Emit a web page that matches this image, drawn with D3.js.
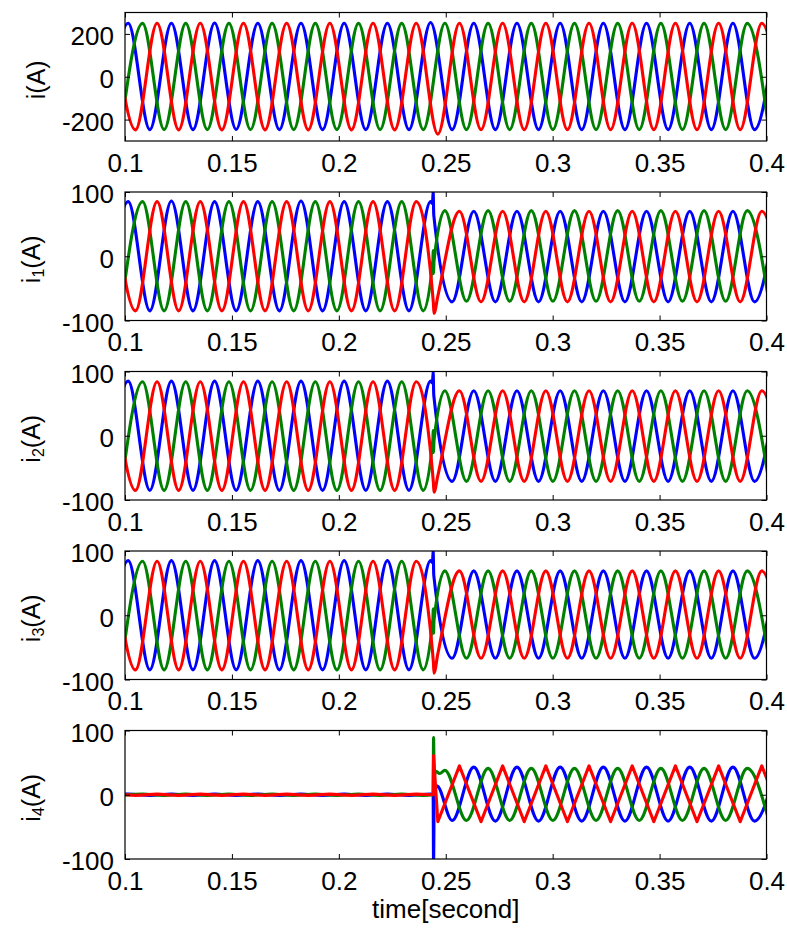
<!DOCTYPE html>
<html>
<head>
<meta charset="utf-8">
<script src="https://cdn.jsdelivr.net/npm/d3@7"></script>
<style>
  body { margin: 0; background: #fff; }
  text { font-family: "Liberation Sans", Arial, sans-serif; fill: #000; }
</style>
</head>
<body>
<svg id="chart" width="787" height="929"></svg>
<script>
// ---- data ----
const xTicks = [0.1, 0.15, 0.2, 0.25, 0.3, 0.35, 0.4];
const xTitle = "time[second]";
const yNames = [["i", ""], ["i", "1"], ["i", "2"], ["i", "3"], ["i", "4"]];
const yLimits = [[-300, 300], [-100, 100], [-100, 100], [-100, 100], [-100, 100]];
const yTickSets = [[-200, 0, 200], [-100, 0, 100], [-100, 0, 100], [-100, 0, 100], [-100, 0, 100]];

// times of the peaks/troughs of each phase (blue starts on a trough, green on a trough, red on a peak)
const tBlue = [0.0914, 0.1015, 0.1116, 0.1217, 0.1318, 0.1419, 0.1520, 0.1621, 0.1722, 0.1823, 0.1924,
  0.2025, 0.2126, 0.2227, 0.2328, 0.2429, 0.2530, 0.2631, 0.2732, 0.2833, 0.2934, 0.3035, 0.3136,
  0.3237, 0.3338, 0.3439, 0.3540, 0.3641, 0.3742, 0.3843, 0.3944, 0.4045];
const tGreen = [0.0981, 0.1082, 0.1183, 0.1284, 0.1385, 0.1486, 0.1587, 0.1688, 0.1789, 0.1890, 0.1991,
  0.2092, 0.2193, 0.2294, 0.2395, 0.2496, 0.2597, 0.2698, 0.2799, 0.2900, 0.3001, 0.3102, 0.3203,
  0.3304, 0.3405, 0.3506, 0.3607, 0.3708, 0.3809, 0.3910, 0.4011];
const tRed = [0.0948, 0.1049, 0.1150, 0.1251, 0.1352, 0.1453, 0.1554, 0.1655, 0.1756, 0.1857, 0.1958,
  0.2059, 0.2160, 0.2261, 0.2362, 0.2463, 0.2564, 0.2665, 0.2766, 0.2867, 0.2968, 0.3069, 0.3170,
  0.3271, 0.3372, 0.3473, 0.3574, 0.3675, 0.3776, 0.3877, 0.3978, 0.4079];

// peak values, panel i
const blueI = [-248, 250, -247, 250, -247, 251, -246, 250, -247, 250, -247, 250, -247, 250, -247, 253,
  -247, 250, -247, 250, -247, 250, -247, 250, -247, 250, -247, 250, -247, 250, -247, 250];
const greenI = [-247, 249, -247, 249, -247, 249, -247, 249, -247, 249, -247, 249, -247, 249, -247, 250,
  -247, 249, -247, 249, -247, 249, -247, 249, -247, 249, -247, 249, -247, 249, -247];
const redI = [250, -248, 250, -248, 250, -248, 250, -248, 250, -248, 250, -248, 250, -248, 250, -268,
  250, -247, 250, -247, 250, -247, 250, -247, 250, -247, 250, -247, 250, -247, 250, -247];

// panel i1
const blue1 = [-85, 85, -85, 86, -85, 85, -85, 85, -85, 86, -85, 85, -85, 85, -85, 85,
  -71, 70, -71, 70, -71, 70, -71, 70, -71, 70, -71, 70, -71, 70, -71, 70];
const green1 = [-85, 85, -85, 85, -85, 85, -85, 85, -85, 85, -85, 85, -85, 85, -85,
  71, -70, 71, -70, 71, -70, 71, -70, 71, -70, 71, -70, 71, -70, 71, -70];
const red1 = [85, -85, 85, -85, 85, -85, 85, -85, 85, -85, 85, -85, 85, -85, 85, -62,
  70, -71, 70, -71, 70, -71, 70, -71, 70, -71, 70, -71, 70, -71, 70, -71];

// panel i2
const blue2 = [-85, 85, -85, 85, -85, 85, -85, 85, -85, 85, -85, 85, -85, 85, -85, 85,
  -71, 70, -71, 70, -71, 70, -71, 70, -71, 70, -71, 70, -71, 70, -71, 70];
const green2 = [-85, 84, -85, 84, -85, 84, -85, 84, -85, 84, -85, 84, -85, 84, -85,
  70, -71, 70, -71, 70, -71, 70, -71, 70, -71, 70, -71, 70, -71, 70, -71];
const red2 = [84, -85, 84, -85, 84, -85, 84, -85, 84, -85, 84, -85, 84, -85, 84, -62,
  70, -71, 70, -71, 70, -71, 70, -71, 70, -71, 70, -71, 70, -71, 70, -71];

// panel i3
const blue3 = [-85, 85, -85, 85, -85, 85, -85, 85, -85, 85, -85, 85, -85, 85, -85, 85,
  -67, 69, -67, 69, -67, 69, -67, 69, -67, 69, -67, 69, -67, 69, -67, 69];
const green3 = [-85, 84, -85, 84, -85, 84, -85, 84, -85, 84, -85, 84, -85, 84, -85,
  69, -67, 69, -67, 69, -67, 69, -67, 69, -67, 69, -67, 69, -67, 69, -67];
const red3 = [84, -85, 84, -85, 84, -85, 84, -85, 84, -85, 84, -85, 84, -85, 84, -60,
  69, -67, 69, -67, 69, -67, 69, -67, 69, -67, 69, -67, 69, -67, 69, -67];

// panel i4 (zero until the switch)
const blue4 = [-1, 1, -1, 1, -1, 1, -1, 1, -1, 1, -1, 1, -1, 1, -1, 1,
  -40, 43, -41, 43, -41, 43, -41, 43, -41, 43, -41, 43, -41, 43, -41, 43];
const green4 = [-1, 1, -1, 1, -1, 1, -1, 1, -1, 1, -1, 1, -1, 1, -1,
  38, -40, 41, -40, 41, -40, 41, -40, 41, -40, 41, -40, 41, -40, 41, -40];
const red4 = [1, -1, 1, -1, 1, -1, 1, -1, 1, -1, 1, -1, 1, -1, 1, -42,
  45, -42, 45, -42, 45, -42, 45, -42, 45, -42, 45, -42, 45, -42, 45, -42];

// extra points of the switching transient, [time, value]
const spikeBlue = [[], [[0.2438, 82], [0.2441, 101], [0.2444, 64]],
  [[0.2438, 82], [0.2441, 100], [0.2444, 63]],
  [[0.2438, 82], [0.2441, 101], [0.2444, 62]],
  [[0.2441, 0], [0.2443, -106], [0.2446, -8], [0.2458, 14]]];
const spikeGreen = [[], [[0.2440, -5], [0.2441, 9], [0.2443, -27], [0.2445, -8]],
  [[0.2440, -5], [0.2441, 8], [0.2443, -26], [0.2445, -8]],
  [[0.2440, -5], [0.2441, 10], [0.2443, -28], [0.2445, -8]],
  [[0.2441, 0], [0.2443, 89], [0.2446, 28], [0.2452, 37], [0.2472, 33]]];
const spikeRed = [[], [[0.2442, -72], [0.2445, -89]],
  [[0.2442, -72], [0.2445, -88]],
  [[0.2442, -72], [0.2445, -90]],
  [[0.2441, 0], [0.2443, 61]]];

// ---- drawing ----
const phaseTimes = [tBlue, tGreen, tRed];
const phaseColors = ["#0000ff", "#008000", "#ff0000"];
const panelValues = [[blueI, greenI, redI], [blue1, green1, red1], [blue2, green2, red2],
  [blue3, green3, red3], [blue4, green4, red4]];
const panelSpikes = [0, 1, 2, 3, 4].map(p => [spikeBlue[p], spikeGreen[p], spikeRed[p]]);

const left = 125, right = 766.5, top0 = 12.5, gap = 179.5, ph = 128.5;
const fontSize = 26;

const svg = d3.select("#chart");
const x = d3.scaleLinear().domain([0.1, 0.4]).range([left, right]);

panelValues.forEach((vals, p) => {
  const top = top0 + p * gap;
  const y = d3.scaleLinear().domain(yLimits[p]).range([top + ph, top]);
  const g = svg.append("g");

  g.append("clipPath").attr("id", "clip" + p)
    .append("rect").attr("x", left).attr("y", top).attr("width", right - left).attr("height", ph);

  const lines = g.append("g").attr("clip-path", "url(#clip" + p + ")");
  vals.forEach((v, c) => {
    let pts = phaseTimes[c].map((t, i) => [t, v[i]]).concat(panelSpikes[p][c]);
    pts.sort((a, b) => a[0] - b[0]);
    // the red i4 trace is triangular
    const curve = (p === 4 && c === 2) ? d3.curveLinear : d3.curveMonotoneX;
    const line = d3.line().x(d => x(d[0])).y(d => y(d[1])).curve(curve);
    lines.append("path").datum(pts)
      .attr("d", line)
      .attr("fill", "none")
      .attr("stroke", phaseColors[c])
      .attr("stroke-width", 3.1)
      .attr("stroke-linejoin", "round");
  });

  // axes, ticks pointing inward like matlab, plain hyphen for minus
  const plain = d => String(d);
  const xa = g.append("g").attr("transform", "translate(0," + (top + ph) + ")")
    .call(d3.axisBottom(x).tickValues(xTicks).tickFormat(plain).tickSize(-5).tickSizeOuter(0).tickPadding(12.5));
  const xt = g.append("g").attr("transform", "translate(0," + top + ")")
    .call(d3.axisTop(x).tickValues(xTicks).tickFormat("").tickSize(-5).tickSizeOuter(0));
  const ya = g.append("g").attr("transform", "translate(" + left + ",0)")
    .call(d3.axisLeft(y).tickValues(yTickSets[p]).tickFormat(plain).tickSize(-5).tickSizeOuter(0).tickPadding(11));
  const yr = g.append("g").attr("transform", "translate(" + right + ",0)")
    .call(d3.axisRight(y).tickValues(yTickSets[p]).tickFormat("").tickSize(-5).tickSizeOuter(0));
  [xa, xt, ya, yr].forEach(a => {
    a.select(".domain").remove();
    a.attr("font-size", fontSize).attr("font-family", null);
    a.selectAll("line").attr("stroke-width", 1);
  });
  ya.selectAll("text").attr("dy", "0.42em");

  g.append("rect")
    .attr("x", left).attr("y", top).attr("width", right - left).attr("height", ph)
    .attr("fill", "none").attr("stroke", "#000").attr("stroke-width", 1.2);

  // y title with optional subscript
  const name = yNames[p];
  const tx = name[1] ? 40 : 45;
  const title = g.append("text")
    .attr("transform", "translate(" + tx + "," + (top + ph / 2 + 3) + ") rotate(-90)")
    .attr("text-anchor", "middle")
    .attr("font-size", fontSize - 1);
  title.append("tspan").text(name[0]);
  if (name[1]) {
    title.append("tspan").attr("font-size", 16).attr("dy", 4).text(name[1]);
    title.append("tspan").attr("dy", -4).text("(A)");
  } else {
    title.append("tspan").text("(A)");
  }
});

svg.append("text")
  .attr("x", (left + right) / 2)
  .attr("y", 918)
  .attr("text-anchor", "middle")
  .attr("font-size", fontSize)
  .text(xTitle);
</script>
</body>
</html>
